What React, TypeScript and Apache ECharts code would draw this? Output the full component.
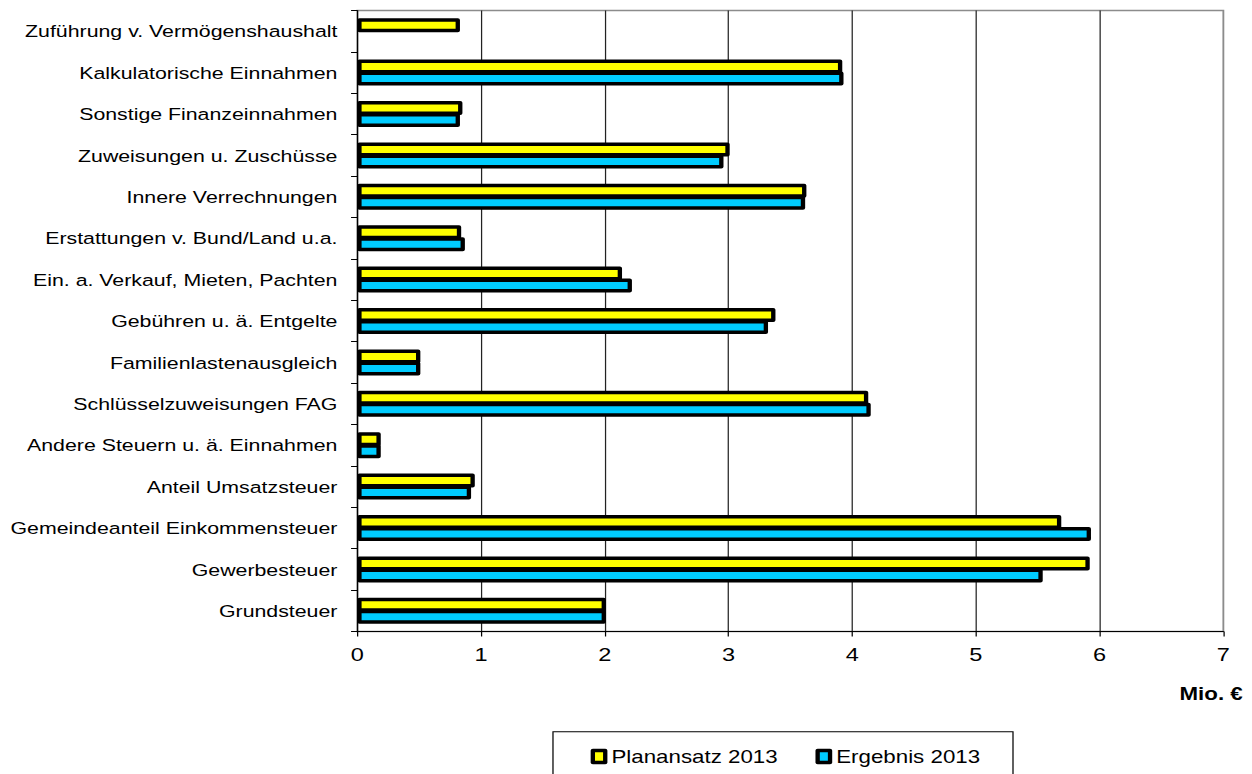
import React, { useEffect, useRef } from "react";
import * as echarts from "echarts";

const categories = [
  "Grundsteuer",
  "Gewerbesteuer",
  "Gemeindeanteil Einkommensteuer",
  "Anteil Umsatzsteuer",
  "Andere Steuern u. ä. Einnahmen",
  "Schlüsselzuweisungen FAG",
  "Familienlastenausgleich",
  "Gebühren u. ä. Entgelte",
  "Ein. a. Verkauf, Mieten, Pachten",
  "Erstattungen v. Bund/Land u.a.",
  "Innere Verrechnungen",
  "Zuweisungen u. Zuschüsse",
  "Sonstige Finanzeinnahmen",
  "Kalkulatorische Einnahmen",
  "Zuführung v. Vermögenshaushalt",
];
const planansatz2013 = [2.01, 5.92, 5.69, 0.95, 0.19, 4.13, 0.51, 3.38, 2.14, 0.84, 3.63, 3.01, 0.85, 3.92, 0.83];
const ergebnis2013 = [2.01, 5.54, 5.93, 0.92, 0.19, 4.15, 0.51, 3.32, 2.22, 0.87, 3.62, 2.96, 0.83, 3.93, null];
const seriesNames = ["Planansatz 2013", "Ergebnis 2013"];
const xMin = 0;
const xMax = 7;
const xInterval = 1;
const unitLabel = "Mio. €";

const STRETCH = 1.2396;
const W = 1010;
const H = 774;
const FONT = "'Liberation Sans', Arial, sans-serif";

export default function App() {
  const ref = useRef<HTMLDivElement>(null);
  useEffect(() => {
    if (!ref.current) return;
    const chart = echarts.init(ref.current, undefined, { renderer: "svg" });
    const barStyle = (color: string) => ({
      color,
      borderColor: "#000",
      borderWidth: 3.5,
      borderJoin: "round",
    });
    chart.setOption({
      animation: false,
      backgroundColor: "#fff",
      textStyle: { fontFamily: FONT },
      grid: {
        left: 288.2,
        right: 23.1,
        top: 10.5,
        bottom: 142.5,
        show: true,
        borderColor: "#8c8c8c",
        borderWidth: 1.5,
        containLabel: false,
      },
      xAxis: {
        type: "value",
        min: xMin,
        max: xMax,
        interval: xInterval,
        axisLine: { show: true, lineStyle: { color: "#000", width: 1 } },
        axisTick: { show: true, length: 5, lineStyle: { color: "#000" } },
        axisLabel: { color: "#000", fontSize: 19, fontFamily: FONT, margin: 14 },
        splitLine: {
          show: true,
          showMinLine: false,
          showMaxLine: false,
          lineStyle: { color: "#222", width: 1 },
        },
      },
      yAxis: {
        type: "category",
        data: categories,
        axisLine: { show: true, lineStyle: { color: "#000", width: 1 } },
        axisTick: { show: true, length: 5, inside: false, lineStyle: { color: "#000" } },
        axisLabel: { color: "#000", fontSize: 17.2, fontFamily: FONT, margin: 16, interval: 0 },
        splitLine: { show: false },
      },
      legend: {
        data: seriesNames,
        left: 476.5,
        top: 747.5,
        padding: 0,
        itemGap: 30.5,
        itemWidth: 10,
        itemHeight: 12,
        icon: "rect",
        itemStyle: { borderColor: "#000", borderWidth: 3.5, borderJoin: "round" },
        textStyle: { color: "#000", fontSize: 18, fontFamily: FONT },
      },
      graphic: [
        {
          type: "rect",
          shape: { x: 446.1, y: 731.7, width: 371.1, height: 80 },
          style: { fill: "none", stroke: "#000", lineWidth: 1 },
          silent: true,
        },
        {
          type: "text",
          x: 1002.5,
          y: 694,
          style: {
            text: unitLabel,
            fill: "#000",
            font: `bold 18px ${FONT}`,
            textAlign: "right",
            textVerticalAlign: "middle",
          },
        },
      ],
      series: [
        {
          name: seriesNames[0],
          type: "bar",
          data: planansatz2013,
          barWidth: 14,
          barGap: "-14%",
          itemStyle: barStyle("#FFFF00"),
        },
        {
          name: seriesNames[1],
          type: "bar",
          data: ergebnis2013,
          barWidth: 14,
          barGap: "-14%",
          itemStyle: barStyle("#00CCFF"),
        },
      ],
    });
    return () => chart.dispose();
  }, []);
  return (
    <div
      ref={ref}
      style={{
        position: "fixed",
        left: 0,
        top: 0,
        width: W,
        height: H,
        transform: `scaleX(${STRETCH})`,
        transformOrigin: "0 0",
      }}
    />
  );
}
